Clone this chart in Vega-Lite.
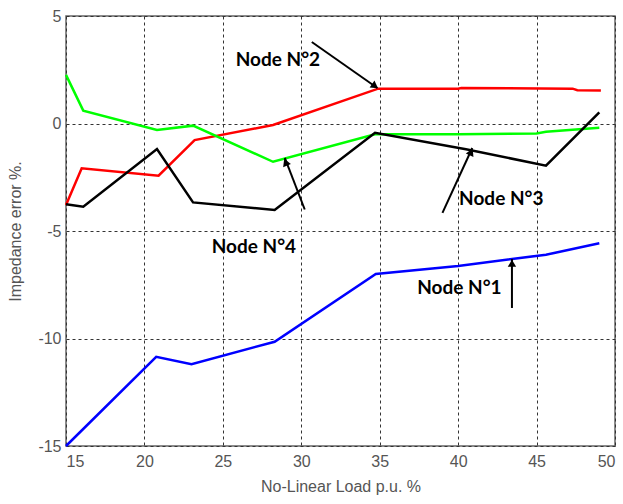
{
  "$schema": "https://vega.github.io/schema/vega-lite/v6.json",
  "autosize": "none",
  "padding": {"left": 66, "top": 16, "right": 8, "bottom": 58},
  "width": 549,
  "height": 430,
  "config": {
    "view": {"stroke": "#666666", "strokeWidth": 1.5},
    "axis": {
      "labelFont": "Liberation Sans",
      "titleFont": "Liberation Sans",
      "labelColor": "#555555",
      "titleColor": "#555555",
      "labelFontSize": 16,
      "titleFontSize": 16,
      "titleFontWeight": "normal",
      "domain": false,
      "ticks": false,
      "gridColor": "#333333",
      "gridDash": [3, 3],
      "gridWidth": 1,
      "gridOpacity": 1,
      "labelExpr": "replace(datum.label, '−', '-')"
    }
  },
  "datasets": {
    "series": [
      {"load": 15.0, "error": -15.0, "node": "Node 1"},
      {"load": 20.75, "error": -10.85, "node": "Node 1"},
      {"load": 23.0, "error": -11.2, "node": "Node 1"},
      {"load": 28.3, "error": -10.15, "node": "Node 1"},
      {"load": 34.75, "error": -7.0, "node": "Node 1"},
      {"load": 40.0, "error": -6.63, "node": "Node 1"},
      {"load": 45.6, "error": -6.1, "node": "Node 1"},
      {"load": 49.0, "error": -5.57, "node": "Node 1"},
      {"load": 15.0, "error": -3.79, "node": "Node 2"},
      {"load": 16.0, "error": -2.08, "node": "Node 2"},
      {"load": 20.9, "error": -2.43, "node": "Node 2"},
      {"load": 23.2, "error": -0.77, "node": "Node 2"},
      {"load": 28.2, "error": -0.07, "node": "Node 2"},
      {"load": 34.9, "error": 1.62, "node": "Node 2"},
      {"load": 40.0, "error": 1.62, "node": "Node 2"},
      {"load": 40.2, "error": 1.65, "node": "Node 2"},
      {"load": 47.3, "error": 1.62, "node": "Node 2"},
      {"load": 47.6, "error": 1.55, "node": "Node 2"},
      {"load": 49.1, "error": 1.53, "node": "Node 2"},
      {"load": 15.0, "error": 2.26, "node": "Node 3"},
      {"load": 16.1, "error": 0.6, "node": "Node 3"},
      {"load": 20.8, "error": -0.3, "node": "Node 3"},
      {"load": 23.1, "error": -0.1, "node": "Node 3"},
      {"load": 28.2, "error": -1.78, "node": "Node 3"},
      {"load": 34.7, "error": -0.5, "node": "Node 3"},
      {"load": 40.0, "error": -0.5, "node": "Node 3"},
      {"load": 45.0, "error": -0.46, "node": "Node 3"},
      {"load": 45.6, "error": -0.38, "node": "Node 3"},
      {"load": 49.0, "error": -0.2, "node": "Node 3"},
      {"load": 15.0, "error": -3.76, "node": "Node 4"},
      {"load": 16.1, "error": -3.87, "node": "Node 4"},
      {"load": 20.8, "error": -1.19, "node": "Node 4"},
      {"load": 23.1, "error": -3.67, "node": "Node 4"},
      {"load": 28.3, "error": -4.02, "node": "Node 4"},
      {"load": 34.7, "error": -0.43, "node": "Node 4"},
      {"load": 40.5, "error": -1.2, "node": "Node 4"},
      {"load": 45.6, "error": -1.96, "node": "Node 4"},
      {"load": 49.0, "error": 0.52, "node": "Node 4"}
    ],
    "arrows": [
      {"x": 30.67, "y": 3.79, "x2": 34.85, "y2": 1.65},
      {"x": 30.22, "y": -4.0, "x2": 28.95, "y2": -1.6},
      {"x": 39.0, "y": -4.16, "x2": 40.9, "y2": -1.14},
      {"x": 43.43, "y": -8.58, "x2": 43.43, "y2": -6.3}
    ],
    "labels": [
      {"x": 28.51, "y": 2.95, "label": "Node N°2"},
      {"x": 26.98, "y": -5.74, "label": "Node N°4"},
      {"x": 42.75, "y": -3.51, "label": "Node N°3"},
      {"x": 40.08, "y": -7.65, "label": "Node N°1"}
    ]
  },
  "layer": [
    {
      "data": {"name": "series"},
      "mark": {"type": "line", "strokeWidth": 2.5},
      "encoding": {
        "x": {
          "field": "load", "type": "quantitative",
          "scale": {"domain": [15, 50], "nice": false, "zero": false},
          "axis": {"values": [15, 20, 25, 30, 35, 40, 45, 50], "title": "No-Linear Load p.u. %", "labelPadding": 7, "titlePadding": 9}
        },
        "y": {
          "field": "error", "type": "quantitative",
          "scale": {"domain": [-15, 5], "nice": false, "zero": false},
          "axis": {"values": [-15, -10, -5, 0, 5], "title": "Impedance error %.", "labelPadding": 5, "titlePadding": 14}
        },
        "color": {
          "field": "node", "type": "nominal",
          "scale": {"domain": ["Node 1", "Node 2", "Node 3", "Node 4"], "range": ["#0000ff", "#ff0000", "#00ff00", "#000000"]},
          "legend": null
        }
      }
    },
    {
      "data": {"name": "arrows"},
      "mark": {"type": "rule", "strokeWidth": 2, "color": "black"},
      "encoding": {
        "x": {"field": "x", "type": "quantitative"},
        "y": {"field": "y", "type": "quantitative"},
        "x2": {"field": "x2"},
        "y2": {"field": "y2"}
      }
    },
    {
      "data": {"values": [{"x": 34.7, "y": 1.74}]},
      "mark": {"type": "point", "shape": "triangle-up", "filled": true, "color": "black", "opacity": 1, "size": 70, "angle": 125},
      "encoding": {"x": {"field": "x", "type": "quantitative"}, "y": {"field": "y", "type": "quantitative"}}
    },
    {
      "data": {"values": [{"x": 29.0, "y": -1.8}]},
      "mark": {"type": "point", "shape": "triangle-up", "filled": true, "color": "black", "opacity": 1, "size": 70, "angle": 337},
      "encoding": {"x": {"field": "x", "type": "quantitative"}, "y": {"field": "y", "type": "quantitative"}}
    },
    {
      "data": {"values": [{"x": 40.83, "y": -1.32}]},
      "mark": {"type": "point", "shape": "triangle-up", "filled": true, "color": "black", "opacity": 1, "size": 70, "angle": 25},
      "encoding": {"x": {"field": "x", "type": "quantitative"}, "y": {"field": "y", "type": "quantitative"}}
    },
    {
      "data": {"values": [{"x": 43.43, "y": -6.5}]},
      "mark": {"type": "point", "shape": "triangle-up", "filled": true, "color": "black", "opacity": 1, "size": 70, "angle": 0},
      "encoding": {"x": {"field": "x", "type": "quantitative"}, "y": {"field": "y", "type": "quantitative"}}
    },
    {
      "data": {"name": "labels"},
      "mark": {"type": "text", "font": "Lato", "fontWeight": "bold", "fontSize": 19, "color": "black"},
      "encoding": {
        "x": {"field": "x", "type": "quantitative"},
        "y": {"field": "y", "type": "quantitative"},
        "text": {"field": "label"}
      }
    }
  ]
}
